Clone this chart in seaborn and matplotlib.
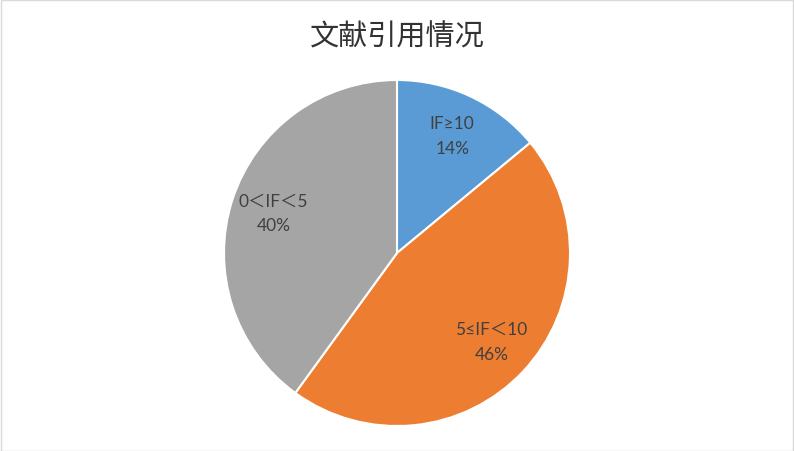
import matplotlib
matplotlib.use("Agg")
import matplotlib.pyplot as plt
import seaborn as sns

sns.set_theme(style="white")
plt.rcParams["font.family"] = ["Noto Sans CJK SC", "DejaVu Sans"]

categories = ["IF≥10", "5≤IF＜10", "0＜IF＜5"]
shares = [14, 46, 40]
colors = ["#5B9BD5", "#ED7D31", "#A5A5A5"]

fig = plt.figure(figsize=(7.94, 4.52), dpi=100)
fig.patch.set_facecolor("white")

# pie area, centred like the original
ax = fig.add_axes([224 / 794, 25 / 452, 346 / 794, 346 / 452])
labels = [f"{c}\n{s}%" for c, s in zip(categories, shares)]
wedges, texts = ax.pie(
    shares,
    labels=labels,
    colors=colors,
    startangle=90,
    counterclock=False,
    labeldistance=0.75,
    wedgeprops={"edgecolor": "white", "linewidth": 1.5},
    textprops={"color": "#404040", "fontsize": 12.5,
               "family": ["Lato", "DejaVu Sans", "Noto Sans CJK SC"]},
)
for t in texts:
    t.set_ha("center")
    t.set_va("center")
    t.set_linespacing(1.7)
ax.set_aspect("equal")
ax.set_xlim(-1.0, 1.0)
ax.set_ylim(-1.0, 1.0)

fig.text(0.5, 1 - 37 / 452, "文献引用情况", ha="center", va="center",
         fontsize=21, color="#333333")

# thin frame around the chart area
border = plt.Rectangle((0.001, 0.001), 0.998, 0.997, transform=fig.transFigure,
                       fill=False, edgecolor="#D9D9D9", linewidth=1)
fig.add_artist(border)

fig.savefig("out.png", dpi=100)
